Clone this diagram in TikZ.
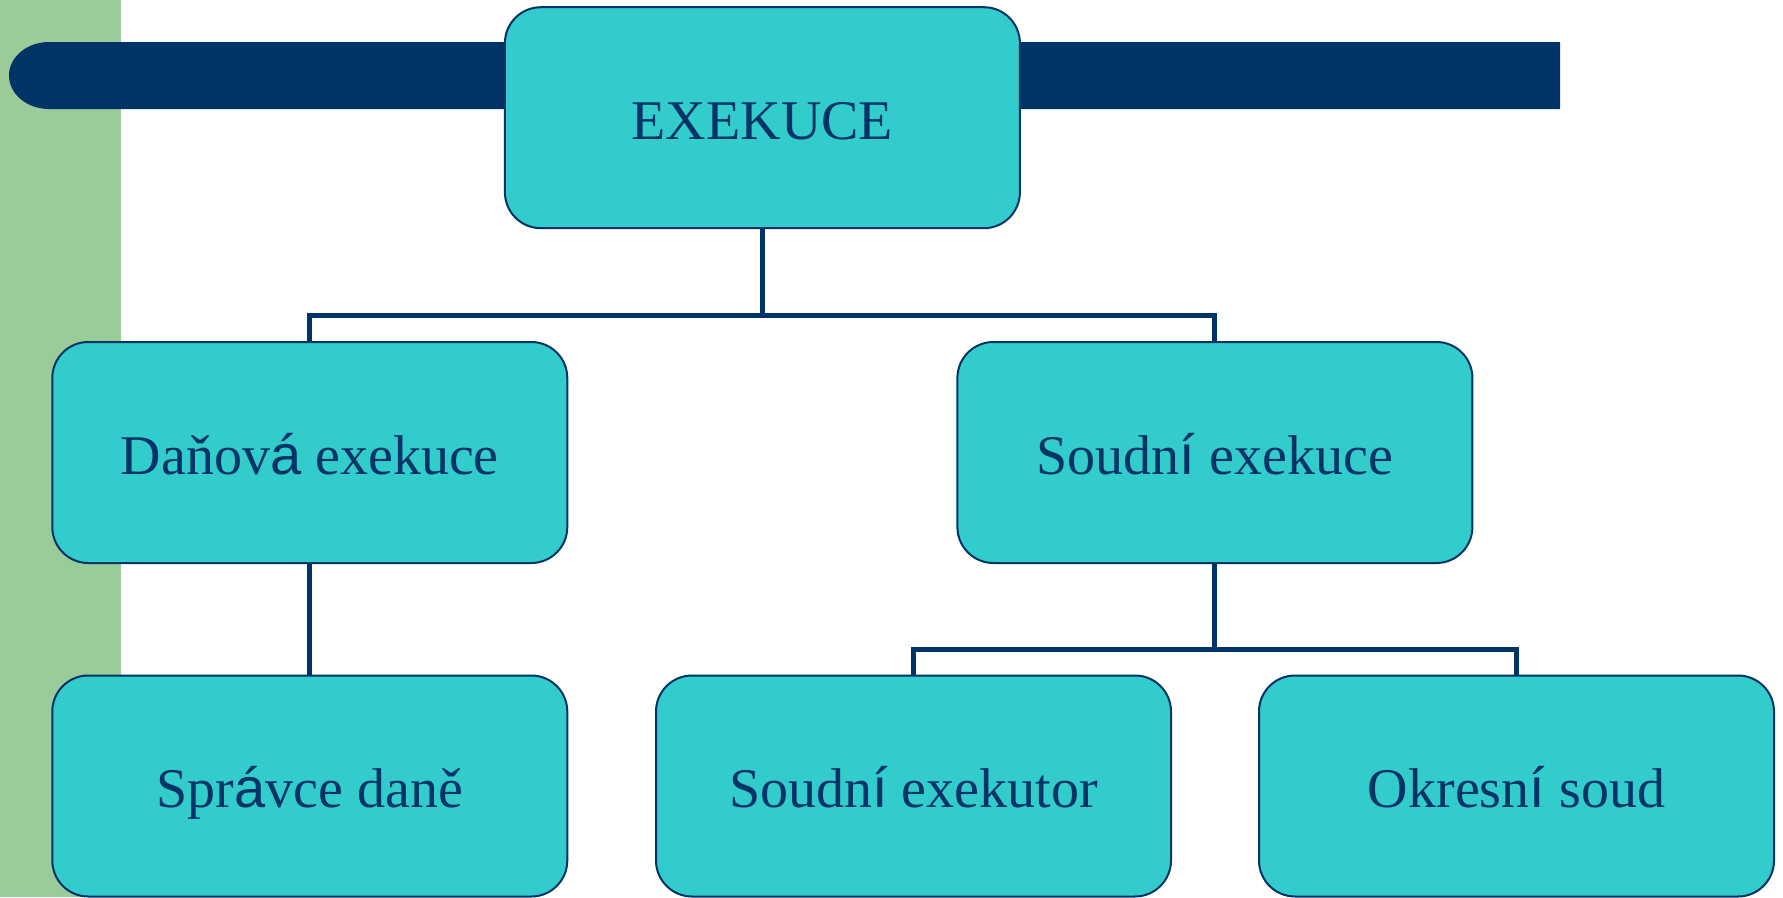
\documentclass[tikz,border=0pt]{standalone}
\usepackage{fontspec}
\setmainfont{Liberation Serif}
\newfontfamily\sansfam{Liberation Sans}
\newcommand\accA{{\sansfam á}}
\newcommand\accI{{\sansfam í}}
\definecolor{navy}{HTML}{003366}
\definecolor{teal}{HTML}{33CCCC}
\definecolor{sage}{HTML}{99CC99}
\begin{document}
\begin{tikzpicture}[x=1pt,y=-1pt,
  box/.style={draw=navy, line width=2pt, fill=teal, rounded corners=36pt,
    minimum width=515pt, minimum height=221pt, inner sep=0pt,
    text height=43pt, text depth=0pt,
    text=navy, font=\fontsize{56}{67}\selectfont},
  conn/.style={draw=navy, line width=5pt}]
\useasboundingbox (0,0) rectangle (1783,897);
% background decorations
\fill[sage] (0,0) rectangle (120.5,897);
\fill[navy] (49,42) -- (1560,42) -- (1560,109) -- (49,109)
  arc[start angle=90, end angle=270, x radius=40, y radius=33.5] -- cycle;
% nodes
\node[box] (top) at (762.4,117.7) {EXEKUCE};
\node[box] (dan) at (309.8,452.5) {Daňov\accA{} exekuce};
\node[box] (sou) at (1214.9,452.5) {Soudn\accI{} exekuce};
\node[box] (spr) at (309.8,786) {Spr\accA{}vce daně};
\node[box] (exr) at (913.5,786) {Soudn\accI{} exekutor};
\node[box] (okr) at (1516.5,786) {Okresn\accI{} soud};
% connectors
\draw[conn] (dan.north) -- ++(0,-26) -| (top.south);
\draw[conn] (sou.north) -- ++(0,-26) -| (top.south);
\draw[conn] (dan.south) -- (spr.north);
\draw[conn] (exr.north) -- ++(0,-25) -| (sou.south);
\draw[conn] (okr.north) -- ++(0,-25) -| (sou.south);
\end{tikzpicture}
\end{document}
